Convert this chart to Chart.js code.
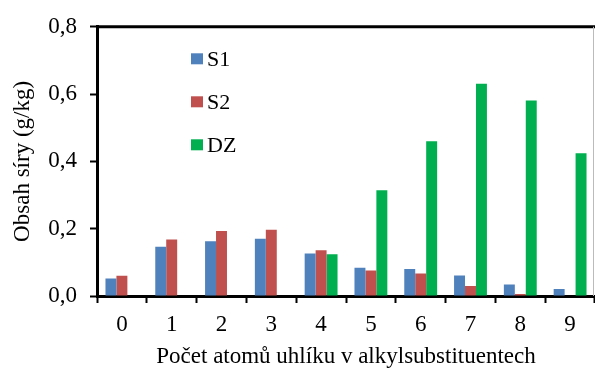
<!DOCTYPE html>
<html><head><meta charset="utf-8">
<script src="https://cdn.jsdelivr.net/npm/chart.js@4/dist/chart.umd.min.js"></script>
<style>html,body{margin:0;padding:0;background:#fff;}#wrap{width:595px;height:371px;}</style>
</head><body><div id="wrap"><canvas id="c" width="595" height="371"></canvas></div>
<script>
const categories = ['0','1','2','3','4','5','6','7','8','9'];
const s1 = [0.052,0.146,0.163,0.170,0.126,0.084,0.080,0.061,0.034,0.021];
const s2 = [0.060,0.168,0.193,0.197,0.136,0.076,0.067,0.030,0.006,0];
const dz = [0,0,0,0,0.124,0.314,0.460,0.631,0.581,0.424];
const seriesNames = ['S1','S2','DZ'];
const seriesColors = ['#4F81BD','#C0504D','#00B050'];
const yTitle = 'Obsah síry (g/kg)';
const xTitle = 'Počet atomů uhlíku v alkylsubstituentech';

const FONT = "'Liberation Serif','Times New Roman',serif";

const framePlugin = {
  id: 'frame',
  afterDraw(chart) {
    const ctx = chart.ctx, a = chart.chartArea;
    ctx.save();
    ctx.strokeStyle = '#000'; ctx.lineWidth = 3;
    ctx.beginPath(); ctx.moveTo(a.left - 1, a.top); ctx.lineTo(chart.width, a.top); ctx.stroke();
    ctx.strokeStyle = '#bbb'; ctx.lineWidth = 1;
    ctx.beginPath(); ctx.moveTo(chart.width - 1.5, a.top); ctx.lineTo(chart.width - 1.5, a.bottom); ctx.stroke();
    // legend
    ctx.font = '22px ' + FONT; ctx.textBaseline = 'middle'; ctx.fillStyle = '#000';
    chart.data.datasets.forEach((ds, i) => {
      const y = a.top + 32 + i * 43;
      const x = a.left + 94;
      ctx.fillStyle = ds.backgroundColor;
      ctx.fillRect(x, y - 5.5, 12, 11);
      ctx.fillStyle = '#000';
      ctx.fillText(ds.label, x + 16, y + 1);
    });
    ctx.restore();
  }
};

new Chart(document.getElementById('c'), {
  type: 'bar',
  data: {
    labels: categories,
    datasets: [
      { label: seriesNames[0], data: s1, backgroundColor: seriesColors[0] },
      { label: seriesNames[1], data: s2, backgroundColor: seriesColors[1] },
      { label: seriesNames[2], data: dz, backgroundColor: seriesColors[2] }
    ]
  },
  options: {
    responsive: false,
    animation: false,
    devicePixelRatio: 1,
    layout: { padding: { left: 9, top: 23, right: 0, bottom: 0 } },
    datasets: { bar: { categoryPercentage: 0.66, barPercentage: 1.0, borderWidth: 0 } },
    plugins: { legend: { display: false }, tooltip: { enabled: false } },
    scales: {
      x: {
        grid: { display: true, drawOnChartArea: false, drawTicks: true, tickLength: 7, tickColor: '#000', tickWidth: 2, offset: true },
        border: { display: true, color: '#000', width: 3 },
        ticks: { color: '#000', font: { family: FONT, size: 23 }, padding: 8 },
        title: { display: true, text: xTitle, color: '#000', font: { family: FONT, size: 23 }, padding: { top: 2, bottom: 0 } },
        afterFit(scale) { scale.height = 75; }
      },
      y: {
        min: 0, max: 0.8,
        grid: { display: true, drawOnChartArea: false, drawTicks: true, tickLength: 7, tickColor: '#000', tickWidth: 2 },
        border: { display: true, color: '#000', width: 3 },
        ticks: { stepSize: 0.2, color: '#000', font: { family: FONT, size: 23 }, padding: 13,
          callback: v => v.toFixed(1).replace('.', ',') },
        title: { display: true, text: yTitle, color: '#000', font: { family: FONT, size: 23 }, padding: { top: 0, bottom: 6 } },
        afterFit(scale) { scale.width = 88; }
      }
    }
  },
  plugins: [framePlugin]
});
</script></body></html>
